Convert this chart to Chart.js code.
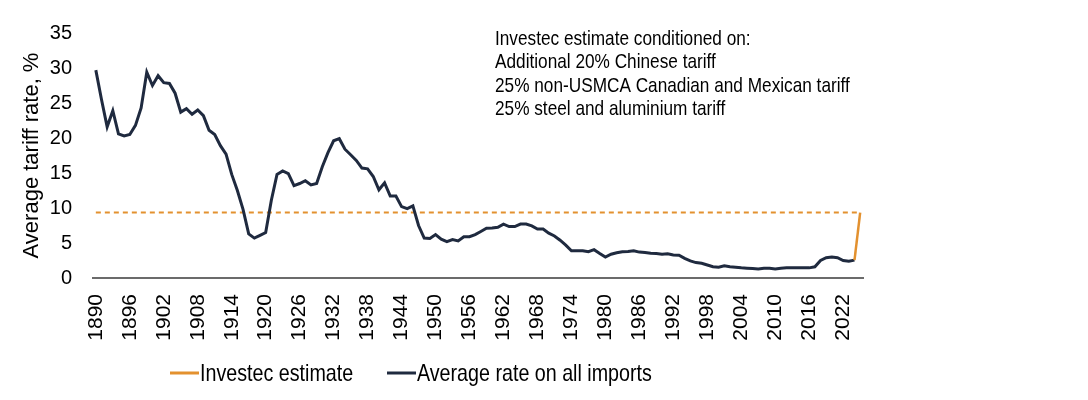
<!DOCTYPE html>
<html>
<head>
<meta charset="utf-8">
<script src="https://cdn.jsdelivr.net/npm/chart.js@4.4.1/dist/chart.umd.min.js"></script>
<style>
  html, body { margin: 0; padding: 0; background: #fff; }
  #wrap { width: 1088px; height: 400px; position: relative; }
</style>
</head>
<body>
<div id="wrap"><canvas id="tariffChart"></canvas></div>
<script>
// years on the category axis, 1890 to 2025
const firstYear = 1890;
const lastYear = 2025;
const years = [];
for (let y = firstYear; y <= lastYear; y++) years.push(String(y));

// x tick labels shown (every 6 years)
const tickLabels = ['1890', '1896', '1902', '1908', '1914', '1920', '1926', '1932', '1938', '1944', '1950', '1956',
    '1962', '1968', '1974', '1980', '1986', '1992', '1998', '2004', '2010', '2016', '2022'];

// average tariff rate on all imports, %, 1890-2024
const avgRate = [
    29.7, 25.5, 21.6, 23.9, 20.6, 20.3, 20.5, 21.8, 24.3, 29.4,   // 1890s
    27.5, 28.9, 27.9, 27.8, 26.4, 23.7, 24.2, 23.4, 24.0, 23.2,   // 1900s
    21.1, 20.5, 18.9, 17.7, 14.8, 12.5, 9.8, 6.3, 5.7, 6.1,       // 1910s
    6.5, 11.1, 14.8, 15.3, 14.9, 13.2, 13.5, 13.9, 13.3, 13.5,    // 1920s
    15.9, 17.9, 19.6, 19.9, 18.4, 17.6, 16.8, 15.7, 15.6, 14.5,   // 1930s
    12.6, 13.6, 11.7, 11.7, 10.2, 9.9, 10.3, 7.5, 5.7, 5.65,      // 1940s
    6.2, 5.55, 5.2, 5.5, 5.3, 5.9, 5.9, 6.2, 6.65, 7.1,           // 1950s
    7.15, 7.25, 7.7, 7.35, 7.35, 7.7, 7.7, 7.45, 7.0, 7.0,        // 1960s
    6.4, 6.0, 5.4, 4.7, 3.9, 3.9, 3.9, 3.75, 4.05, 3.5,           // 1970s
    3.0, 3.4, 3.6, 3.75, 3.8, 3.9, 3.7, 3.65, 3.55, 3.5,          // 1980s
    3.4, 3.45, 3.3, 3.25, 2.8, 2.45, 2.2, 2.1, 1.85, 1.6,         // 1990s
    1.55, 1.75, 1.6, 1.55, 1.45, 1.4, 1.35, 1.3, 1.4, 1.4,        // 2000s
    1.3, 1.4, 1.45, 1.45, 1.45, 1.45, 1.45, 1.6, 2.5, 2.9,        // 2010s
    3.0, 2.9, 2.5, 2.4, 2.55                                      // 2020-2024
];

// Investec estimate segment
const estimateYears = ['2024', '2025'];
const estimateValues = [2.55, 9.35];
const estimateLevel = 9.35;   // dashed reference line

const noteLines = [
    'Investec estimate conditioned on:',
    'Additional 20% Chinese tariff',
    '25% non-USMCA Canadian and Mexican tariff',
    '25% steel and aluminium tariff'
];

const ORANGE = '#e3912f';
const NAVY = '#1f2a3f';
const fontFam = "'Liberation Sans', Arial, sans-serif";
const SQUEEZE = 0.82;   // no narrow face installed, so squeeze horizontal text

const estimateData = years.map(y => {
    const i = estimateYears.indexOf(y);
    return i >= 0 ? estimateValues[i] : null;
});

// draws text squeezed horizontally, starting at x
function narrowText(ctx, text, x, y) {
    ctx.save();
    ctx.translate(x, y);
    ctx.scale(SQUEEZE, 1);
    ctx.fillText(text, 0, 0);
    ctx.restore();
}

// legend + note text drawn on the canvas
const extrasPlugin = {
    id: 'extras',
    afterDraw(chart) {
        const ctx = chart.ctx;
        ctx.save();
        // note at top right
        ctx.fillStyle = '#000';
        ctx.font = '21px ' + fontFam;
        ctx.textBaseline = 'alphabetic';
        ctx.textAlign = 'left';
        noteLines.forEach((t, i) => narrowText(ctx, t, 495, 45 + i * 23.3));

        // legend
        const items = [
            { ds: chart.data.datasets[0], x: 170 },
            { ds: chart.data.datasets[1], x: 387 }
        ];
        ctx.font = '24px ' + fontFam;
        ctx.textBaseline = 'middle';
        items.forEach(it => {
            ctx.strokeStyle = it.ds.borderColor;
            ctx.lineWidth = 3;
            ctx.beginPath();
            ctx.moveTo(it.x, 373);
            ctx.lineTo(it.x + 29, 373);
            ctx.stroke();
            ctx.fillStyle = '#000';
            narrowText(ctx, it.ds.label, it.x + 30, 374);
        });
        ctx.restore();
    }
};

const ctx = document.getElementById('tariffChart').getContext('2d');
const chart = new Chart(ctx, {
    type: 'line',
    data: {
        labels: years,
        datasets: [
            {
                label: 'Investec estimate',
                data: estimateData,
                borderColor: ORANGE,
                borderWidth: 2.5,
                pointRadius: 0,
                tension: 0
            },
            {
                label: 'Average rate on all imports',
                data: avgRate,
                borderColor: NAVY,
                borderWidth: 3,
                pointRadius: 0,
                tension: 0
            },
            {
                label: '',
                data: years.map(() => estimateLevel),
                borderColor: ORANGE,
                borderWidth: 2,
                borderDash: [5, 4],
                pointRadius: 0,
                tension: 0
            }
        ]
    },
    options: {
        responsive: true,
        maintainAspectRatio: false,
        animation: false,
        layout: { padding: { left: 0, top: 22, right: 225, bottom: 0 } },
        plugins: {
            legend: { display: false },
            tooltip: { enabled: false }
        },
        scales: {
            x: {
                offset: true,
                grid: { display: false, drawTicks: false },
                border: { display: true, color: '#6b6b6b', width: 2 },
                ticks: {
                    autoSkip: false,
                    minRotation: 90,
                    maxRotation: 90,
                    padding: 16,
                    color: '#000',
                    font: { family: fontFam, size: 21 },
                    callback: function (val) {
                        const y = this.getLabelForValue(val);
                        return tickLabels.includes(y) ? y : '';
                    }
                },
                afterFit: s => { s.height = 122; }
            },
            y: {
                min: 0,
                max: 35,
                grid: { display: false, drawTicks: false },
                border: { display: false },
                ticks: {
                    stepSize: 5,
                    padding: 21,
                    color: '#000',
                    font: { family: fontFam, size: 20 }
                },
                title: {
                    display: true,
                    text: 'Average tariff rate, %',
                    color: '#000',
                    font: { family: fontFam, size: 22 },
                    padding: { top: 19, bottom: 0 }
                },
                afterFit: s => { s.width = 93; }
            }
        }
    },
    plugins: [extrasPlugin]
});
</script>
</body>
</html>
